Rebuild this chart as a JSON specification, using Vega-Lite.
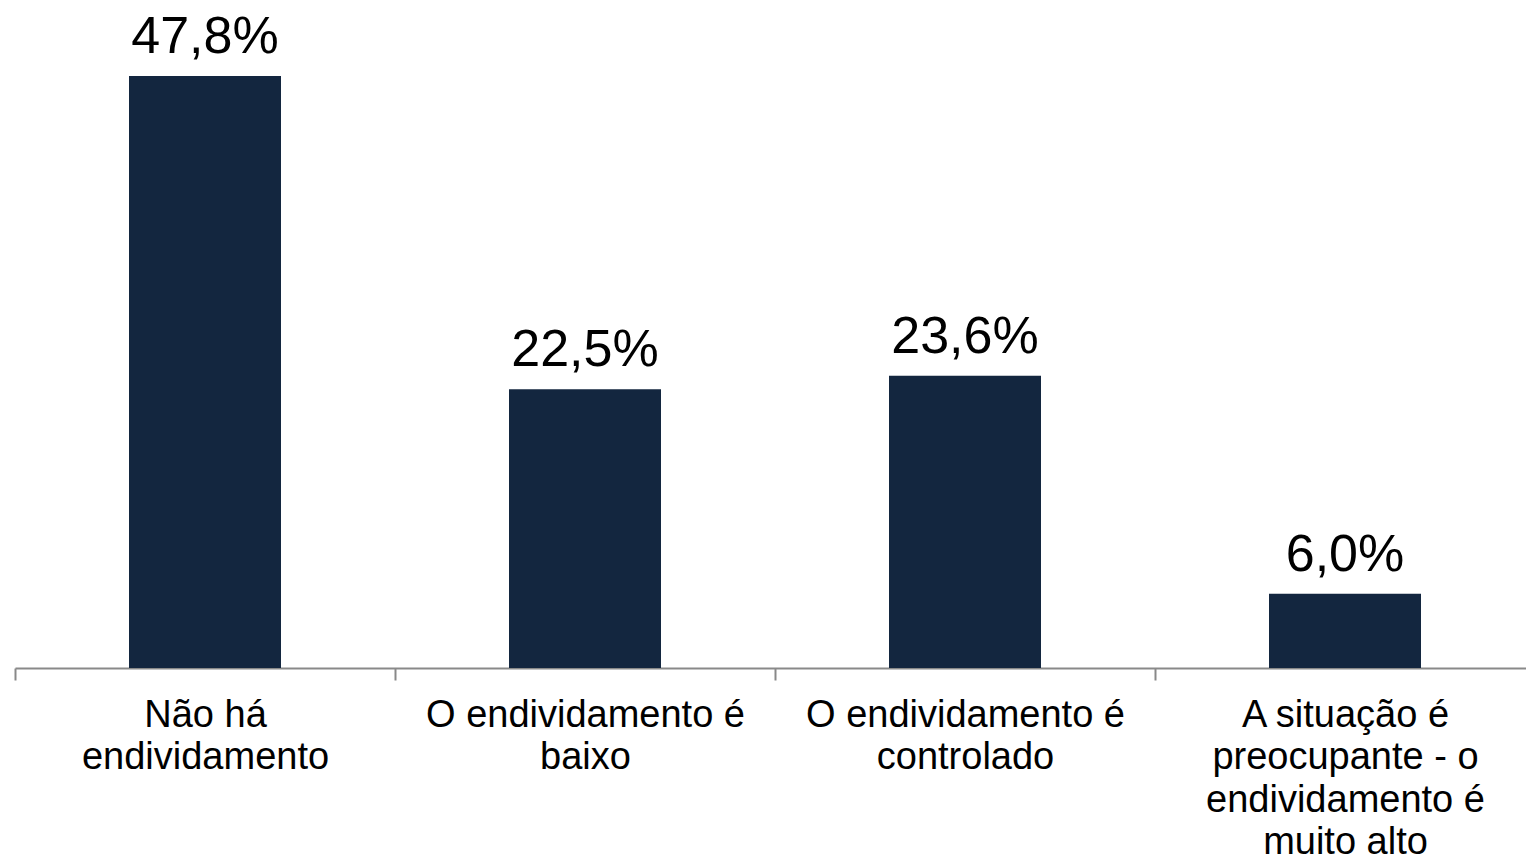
{
  "$schema": "https://vega.github.io/schema/vega-lite/v6.json",
  "width": 1511,
  "height": 592,
  "autosize": {"type": "none"},
  "padding": {"top": 76, "left": 15, "right": 0, "bottom": 196},
  "background": "white",
  "config": {
    "view": {"stroke": null},
    "locale": {"number": {"decimal": ",", "thousands": ".", "grouping": [3], "currency": ["R$", ""]}}
  },
  "data": {
    "values": [
      {"categoria": "Não há|endividamento", "valor": 0.478},
      {"categoria": "O endividamento é|baixo", "valor": 0.225},
      {"categoria": "O endividamento é|controlado", "valor": 0.236},
      {"categoria": "A situação é|preocupante - o|endividamento é|muito alto", "valor": 0.06}
    ]
  },
  "encoding": {
    "x": {
      "field": "categoria",
      "type": "nominal",
      "sort": null,
      "scale": {"range": [0, 1520], "paddingInner": 0, "paddingOuter": 0},
      "axis": {
        "title": null,
        "labelAngle": 0,
        "labelExpr": "split(datum.label, '|')",
        "labelFont": "Liberation Sans",
        "labelFontSize": 38,
        "labelColor": "#000000",
        "labelLineHeight": 42.5,
        "labelLimit": 0,
        "labelOverlap": false,
        "labelBound": false,
        "labelPadding": 16,
        "labelBaseline": "top",
        "tickBand": "extent",
        "tickSize": 12,
        "tickColor": "#898989",
        "tickWidth": 2,
        "domainColor": "#898989",
        "domainWidth": 2,
        "grid": false
      }
    },
    "y": {
      "field": "valor",
      "type": "quantitative",
      "scale": {"domain": [0, 0.478], "nice": false, "zero": true},
      "axis": null
    }
  },
  "layer": [
    {"mark": {"type": "bar", "color": "#13263F", "width": {"band": 0.4}}},
    {
      "mark": {"type": "text", "font": "Liberation Sans", "fontSize": 52, "color": "#000000", "baseline": "alphabetic", "dy": -23},
      "encoding": {"text": {"field": "valor", "type": "quantitative", "format": ".1%"}}
    }
  ]
}
